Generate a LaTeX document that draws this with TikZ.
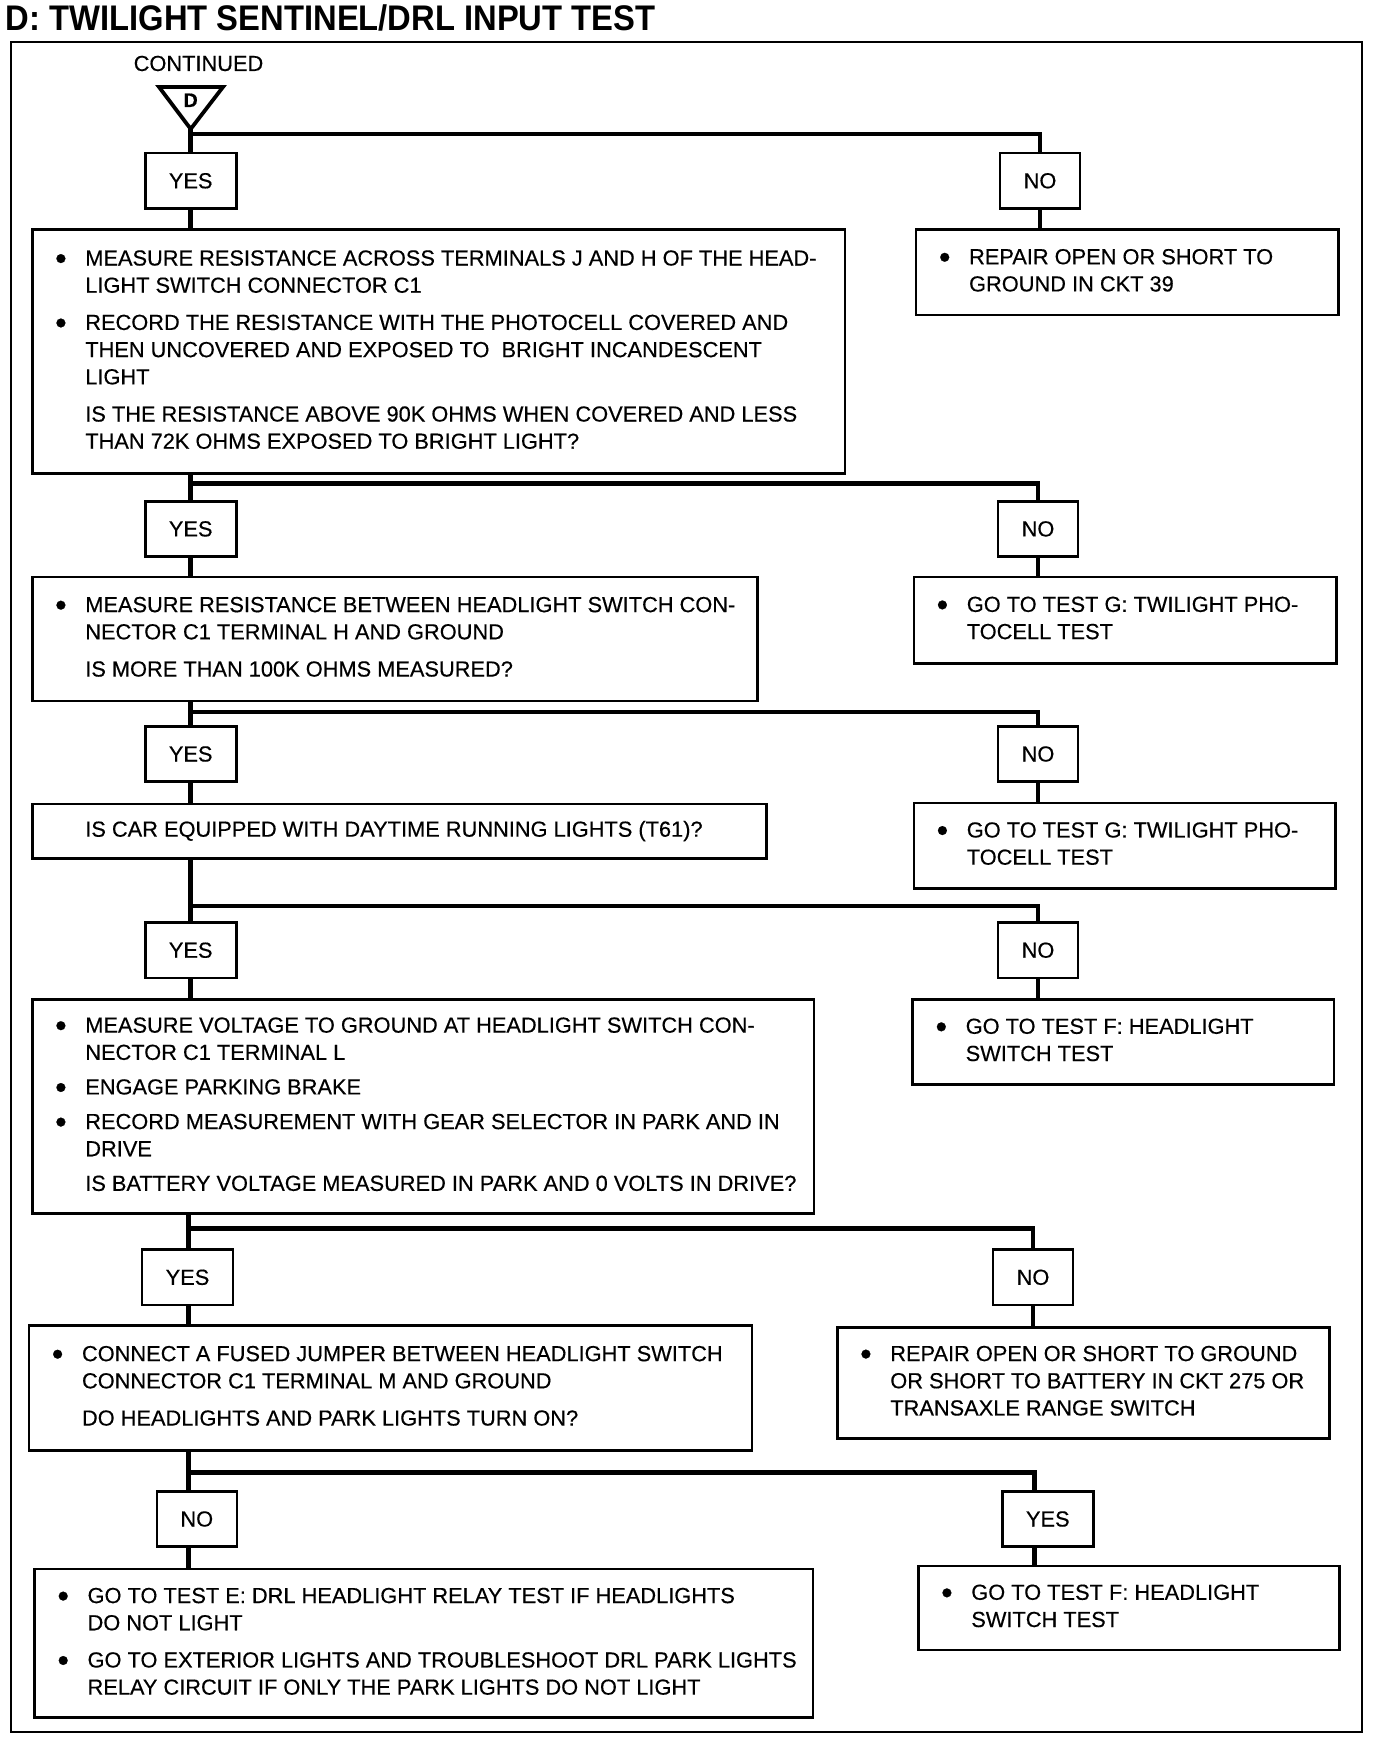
\documentclass[tikz,border=0pt]{standalone}
\usepackage{fontspec}
\setmainfont{Liberation Sans}[FakeBold=0.4]
\newfontfamily\titlefont{Liberation Sans}[FakeStretch=0.92]
\newcommand\bodyfont{\fontsize{10.9}{13.6}\selectfont}
\newcommand\bul{\llap{\raisebox{-2pt}{\fontsize{16.5}{16.5}\selectfont\textbullet}\hspace{9.3pt}}}
\newcommand\pg{\\[5pt]}
\newcommand\pgs{\\[3.7pt]}
% name, x1, y1, x2, y2, content
\newcommand\fcbox[6]{%
  \node[tbox, anchor=north west, minimum width={(#4-#2)*0.5pt}, minimum height={(#5-#3)*0.5pt}] (#1) at (#2,#3)
  {\makebox[\dimexpr(#4pt-#2pt)/2-53pt\relax][l]{\begin{tabular}{@{}l@{}}#6\end{tabular}}};}
\begin{document}
\begin{tikzpicture}[x=0.5pt,y=-0.5pt,
  tbox/.style={draw, line width=1.3pt, inner xsep=26.5pt, inner ysep=0pt, font=\bodyfont},
  lbl/.style={draw, line width=1.3pt, inner sep=0pt, minimum height=27.7pt, font=\bodyfont},
  yesbox/.style={lbl, minimum width=45.5pt},
  nobox/.style={lbl, minimum width=40pt},
  conn/.style={line width=2.3pt},
  frame/.style={line width=1.3pt}]
\fill[white] (0,0) rectangle (1376,1738);
\useasboundingbox (0,0) rectangle (1376,1738);

% title and frame
\node[anchor=base west, inner sep=0pt, font=\titlefont\bfseries\fontsize{17.8}{20}\selectfont] (title) at (5.5,31) {D: TWILIGHT SENTINEL/DRL INPUT TEST};
\draw[frame] (11,42) rectangle (1362,1732);

% continued marker
\node[anchor=base, inner sep=0pt, font=\bodyfont] (cont) at (198.5,71) {CONTINUED};
\coordinate (apex) at (190.7,129);
\draw[line width=1.9pt, line join=miter] (159,87) -- (223,87) -- (apex) -- cycle;
\node[anchor=base, inner sep=0pt, font=\bfseries\fontsize{9.8}{10}\selectfont] (dlab) at (190.7,107) {D};

% ---------- row 1
\node[yesbox] (y1) at (190.7,180.8) {YES};
\node[nobox] (n1) at (1040,180.8) {NO};
\fcbox{b1}{31}{228.4}{843.8}{472.4}{%
\bul MEASURE RESISTANCE ACROSS TERMINALS J AND H OF THE HEAD-\\
LIGHT SWITCH CONNECTOR C1\pg
\bul RECORD THE RESISTANCE WITH THE PHOTOCELL COVERED AND\\
THEN UNCOVERED AND EXPOSED TO\ \ BRIGHT INCANDESCENT\\
LIGHT\pg
IS THE RESISTANCE ABOVE 90K OHMS WHEN COVERED AND LESS\\
THAN 72K OHMS EXPOSED TO BRIGHT LIGHT?}
\fcbox{r1}{914.8}{228.4}{1337.2}{313.8}{%
\bul REPAIR OPEN OR SHORT TO\\
GROUND IN CKT 39}
\coordinate (s1) at (190.7,134);
\draw[conn] (apex) -- (y1.north -| apex);
\draw[conn, line join=miter] (s1) -| (n1.north);
\draw[conn] (y1.south -| s1) -- (b1.north -| s1);
\draw[conn] (n1.south) -- (n1.south |- r1.north);

% ---------- row 2
\node[yesbox] (y2) at (190.7,528.9) {YES};
\node[nobox] (n2) at (1038,528.9) {NO};
\fcbox{b2}{31}{575.5}{756.2}{699.7}{%
\bul MEASURE RESISTANCE BETWEEN HEADLIGHT SWITCH CON-\\
NECTOR C1 TERMINAL H AND GROUND\pg
IS MORE THAN 100K OHMS MEASURED?}
\fcbox{r2}{912.5}{575.5}{1335}{662}{%
\bul GO TO TEST G: TWILIGHT PHO-\\
TOCELL TEST}
\coordinate (s2) at (190.7,483.4);
\draw[conn] (b1.south -| s2) -- (y2.north -| s2);
\draw[conn, line join=miter] (s2) -| (n2.north);
\draw[conn] (y2.south -| s2) -- (b2.north -| s2);
\draw[conn] (n2.south) -- (n2.south |- r2.north);

% ---------- row 3
\node[yesbox] (y3) at (190.7,754) {YES};
\node[nobox] (n3) at (1038,754) {NO};
\fcbox{b3}{31}{802.8}{765}{857.1}{%
IS CAR EQUIPPED WITH DAYTIME RUNNING LIGHTS (T61)?}
\fcbox{r3}{912.5}{801.7}{1334}{887}{%
\bul GO TO TEST G: TWILIGHT PHO-\\
TOCELL TEST}
\coordinate (s3) at (190.7,711.9);
\draw[conn] (b2.south -| s3) -- (y3.north -| s3);
\draw[conn, line join=miter] (s3) -| (n3.north);
\draw[conn] (y3.south -| s3) -- (b3.north -| s3);
\draw[conn] (n3.south) -- (n3.south |- r3.north);

% ---------- row 4
\node[yesbox] (y4) at (190.7,950.2) {YES};
\node[nobox] (n4) at (1038,950.2) {NO};
\fcbox{b4}{31}{998}{812.7}{1212}{%
\bul MEASURE VOLTAGE TO GROUND AT HEADLIGHT SWITCH CON-\\
NECTOR C1 TERMINAL L\pgs
\bul ENGAGE PARKING BRAKE\pgs
\bul RECORD MEASUREMENT WITH GEAR SELECTOR IN PARK AND IN\\
DRIVE\pgs
IS BATTERY VOLTAGE MEASURED IN PARK AND 0 VOLTS IN DRIVE?}
\fcbox{r4}{911.4}{998}{1332.8}{1083.3}{%
\bul GO TO TEST F: HEADLIGHT\\
SWITCH TEST}
\coordinate (s4) at (190.7,905.9);
\draw[conn] (b3.south -| s4) -- (y4.north -| s4);
\draw[conn, line join=miter] (s4) -| (n4.north);
\draw[conn] (y4.south -| s4) -- (b4.north -| s4);
\draw[conn] (n4.south) -- (n4.south |- r4.north);

% ---------- row 5
\node[yesbox] (y5) at (187.5,1277.3) {YES};
\node[nobox] (n5) at (1033,1277.3) {NO};
\fcbox{b5}{27.7}{1324}{750.7}{1449.2}{%
\bul CONNECT A FUSED JUMPER BETWEEN HEADLIGHT SWITCH\\
CONNECTOR C1 TERMINAL M AND GROUND\pg
DO HEADLIGHTS AND PARK LIGHTS TURN ON?}
\fcbox{r5}{836}{1326}{1328.3}{1437}{%
\bul REPAIR OPEN OR SHORT TO GROUND\\
OR SHORT TO BATTERY IN CKT 275 OR\\
TRANSAXLE RANGE SWITCH}
\coordinate (s5) at (188.5,1228.6);
\draw[conn] (b4.south -| s5) -- (y5.north -| s5);
\draw[conn, line join=miter] (s5) -| (n5.north);
\draw[conn] (y5.south -| s5) -- (b5.north -| s5);
\draw[conn] (n5.south) -- (n5.south |- r5.north);

% ---------- row 6
\node[nobox] (n6) at (196.8,1519) {NO};
\node[yesbox] (y6) at (1047.8,1519) {YES};
\fcbox{b6}{33.3}{1567.8}{811.6}{1716.4}{%
\bul GO TO TEST E: DRL HEADLIGHT RELAY TEST IF HEADLIGHTS\\
DO NOT LIGHT\pg
\bul GO TO EXTERIOR LIGHTS AND TROUBLESHOOT DRL PARK LIGHTS\\
RELAY CIRCUIT IF ONLY THE PARK LIGHTS DO NOT LIGHT}
\fcbox{r6}{917}{1564.5}{1338.3}{1648.8}{%
\bul GO TO TEST F: HEADLIGHT\\
SWITCH TEST}
\coordinate (s6) at (188.5,1472.5);
\coordinate (e6) at (1034.5,1472.5);
\draw[conn] (b5.south -| s6) -- (n6.north -| s6);
\draw[conn, line join=miter] (s6) -- (e6) -- (e6 |- y6.north);
\draw[conn] (n6.south -| s6) -- (b6.north -| s6);
\draw[conn] (y6.south -| e6) -- (e6 |- r6.north);
\end{tikzpicture}
\end{document}
